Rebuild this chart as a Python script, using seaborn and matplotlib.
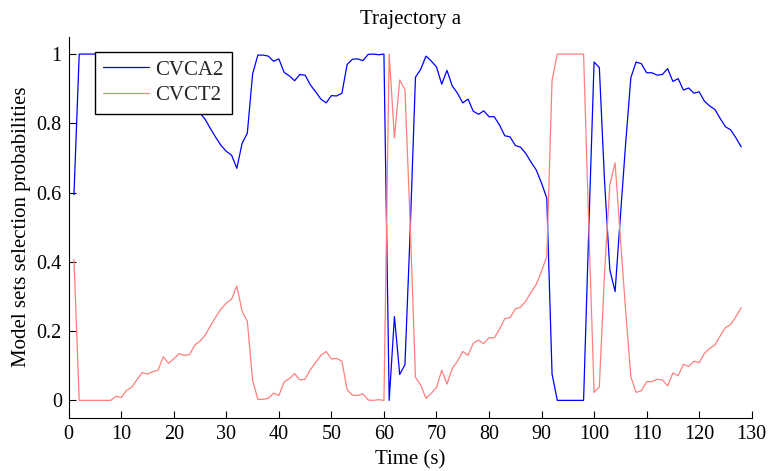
import numpy as np
import pandas as pd
import matplotlib
matplotlib.use("Agg")
import matplotlib.pyplot as plt
import seaborn as sns

# Time samples (s)
time_s = list(range(1, 129))

# Selection probability of model set CVCA2
cvca2 = [
    0.594, 1.000, 1.000, 1.000, 1.000, 1.000, 1.000, 1.000, 0.988, 0.992,
    0.971, 0.962, 0.940, 0.920, 0.924, 0.917, 0.913, 0.874, 0.893, 0.880,
    0.865, 0.870, 0.868, 0.840, 0.829, 0.811, 0.784, 0.759, 0.736, 0.719,
    0.708, 0.670, 0.742, 0.772, 0.942, 0.997, 0.997, 0.994, 0.979, 0.986,
    0.947, 0.937, 0.923, 0.941, 0.939, 0.911, 0.891, 0.870, 0.859, 0.880,
    0.879, 0.887, 0.970, 0.985, 0.986, 0.981, 0.999, 1.000, 0.998, 1.000,
    0.000, 0.242, 0.075, 0.103, 0.490, 0.933, 0.956, 0.994, 0.980, 0.963,
    0.913, 0.953, 0.908, 0.887, 0.859, 0.870, 0.835, 0.826, 0.836, 0.819,
    0.819, 0.795, 0.764, 0.761, 0.736, 0.731, 0.713, 0.688, 0.665, 0.627,
    0.584, 0.076, 0.000, 0.000, 0.000, 0.000, 0.000, 0.000, 0.500, 0.977,
    0.961, 0.630, 0.377, 0.314, 0.530, 0.740, 0.932, 0.977, 0.972, 0.946,
    0.946, 0.939, 0.941, 0.958, 0.921, 0.929, 0.896, 0.902, 0.887, 0.891,
    0.864, 0.850, 0.840, 0.814, 0.790, 0.781, 0.758, 0.732,
]

# Selection probability of model set CVCT2
cvct2 = [
    0.407, 0.000, 0.000, 0.000, 0.000, 0.000, 0.000, 0.000, 0.012, 0.008,
    0.029, 0.038, 0.060, 0.080, 0.076, 0.083, 0.087, 0.126, 0.107, 0.120,
    0.135, 0.130, 0.132, 0.160, 0.171, 0.189, 0.216, 0.241, 0.264, 0.281,
    0.292, 0.330, 0.258, 0.228, 0.058, 0.003, 0.003, 0.006, 0.021, 0.014,
    0.053, 0.063, 0.077, 0.059, 0.061, 0.089, 0.109, 0.130, 0.141, 0.120,
    0.121, 0.113, 0.030, 0.015, 0.014, 0.019, 0.001, 0.000, 0.002, 0.000,
    1.000, 0.758, 0.925, 0.897, 0.510, 0.067, 0.044, 0.006, 0.020, 0.037,
    0.087, 0.047, 0.092, 0.113, 0.141, 0.130, 0.165, 0.174, 0.164, 0.181,
    0.181, 0.205, 0.236, 0.239, 0.264, 0.269, 0.287, 0.312, 0.335, 0.373,
    0.416, 0.924, 1.000, 1.000, 1.000, 1.000, 1.000, 1.000, 0.500, 0.023,
    0.039, 0.370, 0.623, 0.686, 0.470, 0.260, 0.068, 0.023, 0.028, 0.054,
    0.054, 0.061, 0.059, 0.042, 0.079, 0.071, 0.104, 0.098, 0.113, 0.109,
    0.136, 0.150, 0.160, 0.186, 0.210, 0.219, 0.242, 0.268,
]

series_names = ["CVCA2", "CVCT2"]
series_colors = ["#0000ff", "#ff7f7f"]

x_ticks = list(range(0, 131, 10))
y_ticks = [0, 0.2, 0.4, 0.6, 0.8, 1]
y_tick_labels = ["0", "0.2", "0.4", "0.6", "0.8", "1"]

df = pd.DataFrame({
    "Time (s)": time_s * 2,
    "prob": cvca2 + cvct2,
    "model": [series_names[0]] * len(time_s) + [series_names[1]] * len(time_s),
})

sns.set_theme(style="white")
plt.rcParams["font.family"] = ["Liberation Serif", "DejaVu Serif"]

fig = plt.figure(figsize=(7.72, 4.71), dpi=100)
ax = fig.add_axes([0.089, 0.1132, 0.8847, 0.8088])

sns.lineplot(
    data=df, x="Time (s)", y="prob", hue="model",
    palette=dict(zip(series_names, series_colors)),
    linewidth=0.9, ax=ax, legend=True,
)

ax.set_xlim(0, 130)
ax.set_ylim(-0.05, 1.05)
ax.set_xticks(x_ticks)
ax.set_xticklabels([str(v) for v in x_ticks])
ax.set_yticks(y_ticks)
ax.set_yticklabels(y_tick_labels)

ax.tick_params(axis="both", direction="in", length=5, width=0.8,
               color="black", labelsize=14.5, labelcolor="black", pad=5)
ax.tick_params(axis="x", bottom=True, top=False)
ax.tick_params(axis="y", left=True, right=False)

for side in ["top", "right"]:
    ax.spines[side].set_visible(False)
for side in ["left", "bottom"]:
    ax.spines[side].set_color("black")
    ax.spines[side].set_linewidth(0.8)

ax.set_xlabel("Time (s)", fontsize=15, color="black", labelpad=5)
ax.set_ylabel("Model sets selection probabilities", fontsize=15,
              color="black", labelpad=4)
ax.set_title("Trajectory a", fontsize=15, color="black", pad=9)

leg = ax.legend(
    loc="upper left", bbox_to_anchor=(0.0385, 0.9606), borderaxespad=0,
    fontsize=15, frameon=True, fancybox=False, framealpha=1,
    edgecolor="black", handlelength=2.2, handletextpad=0.3,
    borderpad=0.4, labelspacing=0.3,
)
leg.get_frame().set_linewidth(1.0)
for line in leg.get_lines():
    line.set_linewidth(0.9)

fig.savefig("out.png", dpi=100)
